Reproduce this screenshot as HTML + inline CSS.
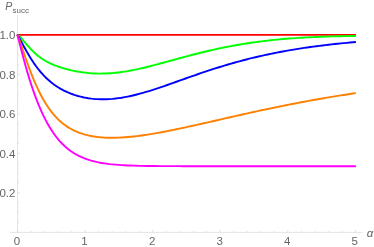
<!DOCTYPE html>
<html><head><meta charset="utf-8"><title>Plot</title>
<style>html,body{margin:0;padding:0;background:#ffffff;}body{width:374px;height:247px;position:relative;overflow:hidden;font-family:"Liberation Sans",sans-serif;}</style>
</head><body>
<svg width="374" height="247" viewBox="0 0 374 247" style="position:absolute;left:0;top:0">
<g stroke="#d0d0d0" stroke-width="0.6" fill="none">
<line x1="10" y1="232.35" x2="362.4" y2="232.35"/>
<line x1="17.57" y1="15.2" x2="17.57" y2="232.35"/>
<line x1="17.57" y1="232.35" x2="17.57" y2="230.04999999999998"/>
<line x1="31.08" y1="232.35" x2="31.08" y2="231.04999999999998"/>
<line x1="44.60" y1="232.35" x2="44.60" y2="231.04999999999998"/>
<line x1="58.11" y1="232.35" x2="58.11" y2="231.04999999999998"/>
<line x1="71.63" y1="232.35" x2="71.63" y2="231.04999999999998"/>
<line x1="85.14" y1="232.35" x2="85.14" y2="230.04999999999998"/>
<line x1="98.65" y1="232.35" x2="98.65" y2="231.04999999999998"/>
<line x1="112.17" y1="232.35" x2="112.17" y2="231.04999999999998"/>
<line x1="125.68" y1="232.35" x2="125.68" y2="231.04999999999998"/>
<line x1="139.20" y1="232.35" x2="139.20" y2="231.04999999999998"/>
<line x1="152.71" y1="232.35" x2="152.71" y2="230.04999999999998"/>
<line x1="166.22" y1="232.35" x2="166.22" y2="231.04999999999998"/>
<line x1="179.74" y1="232.35" x2="179.74" y2="231.04999999999998"/>
<line x1="193.25" y1="232.35" x2="193.25" y2="231.04999999999998"/>
<line x1="206.77" y1="232.35" x2="206.77" y2="231.04999999999998"/>
<line x1="220.28" y1="232.35" x2="220.28" y2="230.04999999999998"/>
<line x1="233.79" y1="232.35" x2="233.79" y2="231.04999999999998"/>
<line x1="247.31" y1="232.35" x2="247.31" y2="231.04999999999998"/>
<line x1="260.82" y1="232.35" x2="260.82" y2="231.04999999999998"/>
<line x1="274.34" y1="232.35" x2="274.34" y2="231.04999999999998"/>
<line x1="287.85" y1="232.35" x2="287.85" y2="230.04999999999998"/>
<line x1="301.36" y1="232.35" x2="301.36" y2="231.04999999999998"/>
<line x1="314.88" y1="232.35" x2="314.88" y2="231.04999999999998"/>
<line x1="328.39" y1="232.35" x2="328.39" y2="231.04999999999998"/>
<line x1="341.91" y1="232.35" x2="341.91" y2="231.04999999999998"/>
<line x1="355.42" y1="232.35" x2="355.42" y2="230.04999999999998"/>
<line x1="17.57" y1="222.47" x2="18.87" y2="222.47"/>
<line x1="17.57" y1="212.60" x2="18.87" y2="212.60"/>
<line x1="17.57" y1="202.72" x2="18.87" y2="202.72"/>
<line x1="17.57" y1="192.85" x2="19.87" y2="192.85"/>
<line x1="17.57" y1="182.97" x2="18.87" y2="182.97"/>
<line x1="17.57" y1="173.10" x2="18.87" y2="173.10"/>
<line x1="17.57" y1="163.22" x2="18.87" y2="163.22"/>
<line x1="17.57" y1="153.35" x2="19.87" y2="153.35"/>
<line x1="17.57" y1="143.47" x2="18.87" y2="143.47"/>
<line x1="17.57" y1="133.60" x2="18.87" y2="133.60"/>
<line x1="17.57" y1="123.72" x2="18.87" y2="123.72"/>
<line x1="17.57" y1="113.85" x2="19.87" y2="113.85"/>
<line x1="17.57" y1="103.97" x2="18.87" y2="103.97"/>
<line x1="17.57" y1="94.10" x2="18.87" y2="94.10"/>
<line x1="17.57" y1="84.22" x2="18.87" y2="84.22"/>
<line x1="17.57" y1="74.35" x2="19.87" y2="74.35"/>
<line x1="17.57" y1="64.47" x2="18.87" y2="64.47"/>
<line x1="17.57" y1="54.60" x2="18.87" y2="54.60"/>
<line x1="17.57" y1="44.72" x2="18.87" y2="44.72"/>
<line x1="17.57" y1="34.85" x2="19.87" y2="34.85"/>
</g>
<g fill="none" stroke-width="1.9" stroke-linejoin="round">
<path d="M16.77,34.85 L355.9,34.85" stroke="#ff0000"/>
<path d="M17.33,34.85 L18.72,35.74 L19.86,36.79 L21.01,37.96 L22.15,39.21 L23.30,40.52 L24.44,41.85 L25.59,43.19 L26.73,44.53 L27.88,45.84 L29.02,47.13 L30.17,48.38 L31.31,49.59 L32.46,50.76 L33.60,51.88 L34.75,52.95 L35.89,53.98 L37.04,54.96 L38.18,55.89 L39.33,56.78 L40.48,57.62 L41.62,58.42 L42.77,59.18 L43.91,59.91 L45.06,60.60 L46.20,61.25 L47.35,61.87 L48.49,62.47 L49.64,63.04 L50.78,63.58 L51.93,64.10 L53.07,64.59 L54.22,65.06 L55.36,65.52 L56.51,65.95 L57.65,66.37 L58.80,66.77 L59.94,67.16 L61.09,67.53 L62.23,67.89 L63.38,68.24 L64.53,68.57 L65.67,68.89 L66.82,69.19 L67.96,69.49 L69.11,69.78 L70.25,70.05 L71.40,70.31 L72.54,70.57 L73.69,70.81 L74.83,71.04 L75.98,71.26 L77.12,71.48 L78.27,71.68 L79.41,71.87 L80.56,72.05 L81.70,72.22 L82.85,72.39 L83.99,72.54 L85.14,72.68 L88.18,73.01 L91.22,73.26 L94.27,73.44 L97.31,73.56 L100.35,73.60 L103.39,73.57 L106.44,73.48 L109.48,73.31 L112.52,73.09 L115.56,72.80 L118.60,72.45 L121.65,72.05 L124.69,71.59 L127.73,71.09 L130.77,70.54 L133.82,69.94 L136.86,69.31 L139.90,68.64 L142.94,67.95 L145.98,67.22 L149.03,66.47 L152.07,65.70 L155.11,64.91 L158.15,64.10 L161.20,63.28 L164.24,62.46 L167.28,61.63 L170.32,60.79 L173.37,59.96 L176.41,59.12 L179.45,58.29 L182.49,57.47 L185.53,56.65 L188.58,55.84 L191.62,55.04 L194.66,54.25 L197.70,53.48 L200.75,52.72 L203.79,51.97 L206.83,51.24 L209.87,50.53 L212.91,49.84 L215.96,49.16 L219.00,48.50 L222.04,47.86 L225.08,47.24 L228.13,46.64 L231.17,46.06 L234.21,45.50 L237.25,44.96 L240.29,44.44 L243.34,43.93 L246.38,43.45 L249.42,42.99 L252.46,42.54 L255.51,42.11 L258.55,41.71 L261.59,41.32 L264.63,40.94 L267.67,40.59 L270.72,40.25 L273.76,39.93 L276.80,39.63 L279.84,39.34 L282.89,39.06 L285.93,38.81 L288.97,38.56 L292.01,38.33 L295.06,38.11 L298.10,37.91 L301.14,37.72 L304.18,37.54 L307.22,37.38 L310.27,37.22 L313.31,37.08 L316.35,36.94 L319.39,36.82 L322.44,36.71 L325.48,36.60 L328.52,36.50 L331.56,36.42 L334.60,36.34 L337.65,36.27 L340.69,36.20 L343.73,36.14 L346.77,36.09 L349.82,36.05 L352.86,36.01 L355.90,35.98" stroke="#00ff00"/>
<path d="M17.33,34.85 L18.72,36.94 L19.86,39.05 L21.01,41.18 L22.15,43.31 L23.30,45.43 L24.44,47.52 L25.59,49.58 L26.73,51.60 L27.88,53.58 L29.02,55.52 L30.17,57.40 L31.31,59.23 L32.46,61.00 L33.60,62.72 L34.75,64.38 L35.89,65.98 L37.04,67.52 L38.18,69.01 L39.33,70.45 L40.48,71.83 L41.62,73.15 L42.77,74.43 L43.91,75.65 L45.06,76.83 L46.20,77.96 L47.35,79.04 L48.49,80.08 L49.64,81.08 L50.78,82.03 L51.93,82.95 L53.07,83.83 L54.22,84.68 L55.36,85.48 L56.51,86.26 L57.65,87.00 L58.80,87.72 L59.94,88.40 L61.09,89.06 L62.23,89.68 L63.38,90.29 L64.53,90.86 L65.67,91.41 L66.82,91.94 L67.96,92.45 L69.11,92.93 L70.25,93.39 L71.40,93.83 L72.54,94.25 L73.69,94.65 L74.83,95.04 L75.98,95.40 L77.12,95.74 L78.27,96.07 L79.41,96.38 L80.56,96.67 L81.70,96.94 L82.85,97.20 L83.99,97.45 L85.14,97.67 L88.18,98.20 L91.22,98.61 L94.27,98.93 L97.31,99.15 L100.35,99.27 L103.39,99.30 L106.44,99.23 L109.48,99.09 L112.52,98.86 L115.56,98.55 L118.60,98.16 L121.65,97.71 L124.69,97.18 L127.73,96.59 L130.77,95.95 L133.82,95.24 L136.86,94.49 L139.90,93.69 L142.94,92.84 L145.98,91.96 L149.03,91.04 L152.07,90.09 L155.11,89.11 L158.15,88.11 L161.20,87.08 L164.24,86.04 L167.28,84.99 L170.32,83.92 L173.37,82.85 L176.41,81.77 L179.45,80.69 L182.49,79.60 L185.53,78.52 L188.58,77.45 L191.62,76.38 L194.66,75.31 L197.70,74.26 L200.75,73.22 L203.79,72.19 L206.83,71.17 L209.87,70.17 L212.91,69.18 L215.96,68.20 L219.00,67.25 L222.04,66.31 L225.08,65.39 L228.13,64.48 L231.17,63.60 L234.21,62.74 L237.25,61.89 L240.29,61.06 L243.34,60.25 L246.38,59.47 L249.42,58.70 L252.46,57.95 L255.51,57.21 L258.55,56.50 L261.59,55.81 L264.63,55.14 L267.67,54.48 L270.72,53.84 L273.76,53.22 L276.80,52.62 L279.84,52.03 L282.89,51.46 L285.93,50.91 L288.97,50.38 L292.01,49.86 L295.06,49.35 L298.10,48.86 L301.14,48.39 L304.18,47.93 L307.22,47.49 L310.27,47.05 L313.31,46.64 L316.35,46.23 L319.39,45.84 L322.44,45.46 L325.48,45.09 L328.52,44.74 L331.56,44.39 L334.60,44.06 L337.65,43.73 L340.69,43.42 L343.73,43.12 L346.77,42.83 L349.82,42.55 L352.86,42.27 L355.90,42.01" stroke="#0000ff"/>
<path d="M17.33,34.85 L18.72,38.08 L19.86,41.38 L21.01,44.72 L22.15,48.08 L23.30,51.43 L24.44,54.76 L25.59,58.06 L26.73,61.31 L27.88,64.50 L29.02,67.62 L30.17,70.67 L31.31,73.64 L32.46,76.53 L33.60,79.33 L34.75,82.04 L35.89,84.67 L37.04,87.20 L38.18,89.64 L39.33,92.00 L40.48,94.26 L41.62,96.44 L42.77,98.53 L43.91,100.54 L45.06,102.46 L46.20,104.30 L47.35,106.07 L48.49,107.76 L49.64,109.38 L50.78,110.92 L51.93,112.40 L53.07,113.81 L54.22,115.16 L55.36,116.44 L56.51,117.67 L57.65,118.84 L58.80,119.95 L59.94,121.01 L61.09,122.02 L62.23,122.99 L63.38,123.90 L64.53,124.77 L65.67,125.60 L66.82,126.39 L67.96,127.14 L69.11,127.85 L70.25,128.53 L71.40,129.17 L72.54,129.78 L73.69,130.35 L74.83,130.90 L75.98,131.42 L77.12,131.90 L78.27,132.37 L79.41,132.80 L80.56,133.21 L81.70,133.60 L82.85,133.97 L83.99,134.31 L85.14,134.64 L88.18,135.40 L91.22,136.03 L94.27,136.55 L97.31,136.97 L100.35,137.29 L103.39,137.52 L106.44,137.68 L109.48,137.76 L112.52,137.78 L115.56,137.74 L118.60,137.64 L121.65,137.49 L124.69,137.29 L127.73,137.05 L130.77,136.77 L133.82,136.45 L136.86,136.10 L139.90,135.71 L142.94,135.29 L145.98,134.85 L149.03,134.38 L152.07,133.89 L155.11,133.37 L158.15,132.84 L161.20,132.28 L164.24,131.71 L167.28,131.13 L170.32,130.52 L173.37,129.91 L176.41,129.28 L179.45,128.65 L182.49,128.00 L185.53,127.34 L188.58,126.68 L191.62,126.01 L194.66,125.34 L197.70,124.66 L200.75,123.97 L203.79,123.28 L206.83,122.59 L209.87,121.90 L212.91,121.20 L215.96,120.51 L219.00,119.81 L222.04,119.11 L225.08,118.42 L228.13,117.73 L231.17,117.03 L234.21,116.34 L237.25,115.65 L240.29,114.97 L243.34,114.29 L246.38,113.61 L249.42,112.94 L252.46,112.27 L255.51,111.60 L258.55,110.94 L261.59,110.28 L264.63,109.63 L267.67,108.99 L270.72,108.35 L273.76,107.71 L276.80,107.09 L279.84,106.46 L282.89,105.85 L285.93,105.24 L288.97,104.64 L292.01,104.04 L295.06,103.45 L298.10,102.87 L301.14,102.29 L304.18,101.72 L307.22,101.16 L310.27,100.60 L313.31,100.05 L316.35,99.51 L319.39,98.98 L322.44,98.45 L325.48,97.93 L328.52,97.42 L331.56,96.91 L334.60,96.41 L337.65,95.92 L340.69,95.43 L343.73,94.96 L346.77,94.48 L349.82,94.02 L352.86,93.56 L355.90,93.11" stroke="#ff8000"/>
<path d="M17.33,34.85 L18.72,39.61 L19.86,44.27 L21.01,48.83 L22.15,53.29 L23.30,57.63 L24.44,61.87 L25.59,65.99 L26.73,70.00 L27.88,73.89 L29.02,77.67 L30.17,81.33 L31.31,84.87 L32.46,88.30 L33.60,91.62 L34.75,94.83 L35.89,97.92 L37.04,100.91 L38.18,103.79 L39.33,106.56 L40.48,109.23 L41.62,111.80 L42.77,114.28 L43.91,116.65 L45.06,118.94 L46.20,121.13 L47.35,123.24 L48.49,125.26 L49.64,127.20 L50.78,129.05 L51.93,130.83 L53.07,132.54 L54.22,134.17 L55.36,135.73 L56.51,137.22 L57.65,138.65 L58.80,140.02 L59.94,141.32 L61.09,142.57 L62.23,143.76 L63.38,144.89 L64.53,145.98 L65.67,147.01 L66.82,148.00 L67.96,148.94 L69.11,149.83 L70.25,150.68 L71.40,151.50 L72.54,152.27 L73.69,153.01 L74.83,153.71 L75.98,154.37 L77.12,155.01 L78.27,155.61 L79.41,156.18 L80.56,156.72 L81.70,157.24 L82.85,157.73 L83.99,158.20 L85.14,158.64 L88.18,159.70 L91.22,160.63 L94.27,161.43 L97.31,162.13 L100.35,162.72 L103.39,163.24 L106.44,163.68 L109.48,164.07 L112.52,164.39 L115.56,164.67 L118.60,164.91 L121.65,165.11 L124.69,165.29 L127.73,165.43 L130.77,165.56 L133.82,165.66 L136.86,165.75 L139.90,165.83 L142.94,165.89 L145.98,165.94 L149.03,165.99 L152.07,166.02 L155.11,166.05 L158.15,166.08 L161.20,166.10 L164.24,166.12 L167.28,166.13 L170.32,166.14 L173.37,166.15 L176.41,166.16 L179.45,166.17 L182.49,166.18 L185.53,166.18 L188.58,166.18 L191.62,166.19 L194.66,166.19 L197.70,166.19 L200.75,166.19 L203.79,166.20 L206.83,166.20 L209.87,166.20 L212.91,166.20 L215.96,166.20 L219.00,166.20 L222.04,166.20 L225.08,166.20 L228.13,166.21 L231.17,166.21 L234.21,166.21 L237.25,166.21 L240.29,166.21 L243.34,166.21 L246.38,166.21 L249.42,166.21 L252.46,166.21 L255.51,166.21 L258.55,166.21 L261.59,166.21 L264.63,166.21 L267.67,166.21 L270.72,166.21 L273.76,166.21 L276.80,166.22 L279.84,166.22 L282.89,166.22 L285.93,166.22 L288.97,166.22 L292.01,166.22 L295.06,166.22 L298.10,166.22 L301.14,166.22 L304.18,166.22 L307.22,166.22 L310.27,166.22 L313.31,166.22 L316.35,166.22 L319.39,166.22 L322.44,166.22 L325.48,166.22 L328.52,166.22 L331.56,166.22 L334.60,166.22 L337.65,166.22 L340.69,166.22 L343.73,166.22 L346.77,166.22 L349.82,166.22 L352.86,166.22 L355.90,166.22" stroke="#ff00ff"/>
</g>
<g font-family="Liberation Sans, sans-serif" font-size="11.5" fill="#666666" style="filter:grayscale(1)">
<text x="16.97" y="244.8" text-anchor="middle">0</text>
<text x="84.54" y="244.8" text-anchor="middle">1</text>
<text x="152.11" y="244.8" text-anchor="middle">2</text>
<text x="219.68" y="244.8" text-anchor="middle">3</text>
<text x="287.25" y="244.8" text-anchor="middle">4</text>
<text x="354.82" y="244.8" text-anchor="middle">5</text>
<text x="15.4" y="197.05" text-anchor="end">0.2</text>
<text x="15.4" y="157.55" text-anchor="end">0.4</text>
<text x="15.4" y="118.05" text-anchor="end">0.6</text>
<text x="15.4" y="78.55" text-anchor="end">0.8</text>
<text x="15.4" y="39.05" text-anchor="end">1.0</text>
<text x="366.8" y="236.5" font-style="italic">α</text>
<text x="5.2" y="9.8" font-style="italic" font-size="10.5">P</text>
<text x="12.6" y="12.8" font-size="8">succ</text>
</g>
</svg>
</body></html>
